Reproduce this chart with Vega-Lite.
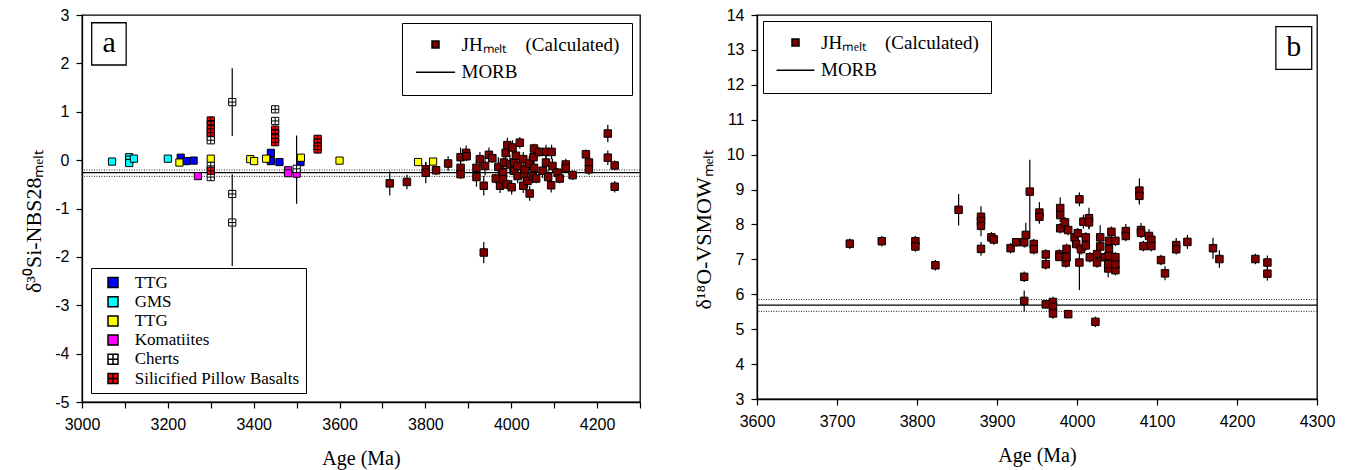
{
  "$schema": "https://vega.github.io/schema/vega-lite/v6.json",
  "background": "white",
  "autosize": {"type": "pad"},
  "padding": {"left": 22, "top": 6, "right": 4, "bottom": 2},
  "spacing": 49,
  "resolve": {"scale": {"fill": "independent", "shape": "independent"}, "legend": {"fill": "independent", "shape": "independent"}},
  "config": {
    "view": {"stroke": "black", "strokeWidth": 1.3},
    "axis": {
      "grid": false, "domainColor": "black", "domainWidth": 1.3,
      "tickColor": "black", "tickWidth": 1.2, "tickSize": 6,
      "labelFont": "Liberation Sans", "labelFontSize": 16, "labelColor": "black",
      "labelPadding": 7, "labelFlush": false, "labelOverlap": false,
      "titleFont": "Liberation Serif", "titleFontSize": 20, "titleFontWeight": "normal", "titleColor": "black"
    },
    "axisY": {"titleFontSize": 22},
    "legend": {"labelFont": "Liberation Serif", "labelColor": "black", "strokeColor": "black", "fillColor": "white", "labelLimit": 400}
  },
  "datasets": {
    "left_cat": [
      {"age": 3070, "d": -0.03, "group": "GMS"},
      {"age": 3110, "d": 0.06, "group": "GMS"},
      {"age": 3110, "d": 0.01, "group": "GMS"},
      {"age": 3110, "d": -0.06, "group": "GMS"},
      {"age": 3121, "d": 0.03, "group": "GMS"},
      {"age": 3200, "d": 0.03, "group": "GMS"},
      {"age": 3230, "d": 0.05, "group": "TTG-a"},
      {"age": 3242, "d": -0.02, "group": "TTG-a"},
      {"age": 3260, "d": -0.01, "group": "TTG-a"},
      {"age": 3440, "d": 0.15, "group": "TTG-a"},
      {"age": 3440, "d": -0.02, "group": "TTG-a"},
      {"age": 3460, "d": -0.04, "group": "TTG-a"},
      {"age": 3509, "d": -0.04, "group": "TTG-a"},
      {"age": 3227, "d": -0.05, "group": "TTG-b"},
      {"age": 3300, "d": 0.03, "group": "TTG-b"},
      {"age": 3392, "d": 0.02, "group": "TTG-b"},
      {"age": 3401, "d": -0.02, "group": "TTG-b"},
      {"age": 3429, "d": 0.03, "group": "TTG-b"},
      {"age": 3510, "d": 0.05, "group": "TTG-b"},
      {"age": 3600, "d": -0.01, "group": "TTG-b"},
      {"age": 3783, "d": -0.04, "group": "TTG-b"},
      {"age": 3818, "d": -0.03, "group": "TTG-b"},
      {"age": 3270, "d": -0.33, "group": "Komatiites"},
      {"age": 3480, "d": -0.21, "group": "Komatiites"},
      {"age": 3480, "d": -0.27, "group": "Komatiites"},
      {"age": 3500, "d": -0.28, "group": "Komatiites"},
      {"age": 3300, "d": 0.49, "group": "Cherts"},
      {"age": 3300, "d": 0.41, "group": "Cherts"},
      {"age": 3300, "d": -0.12, "group": "Cherts"},
      {"age": 3300, "d": -0.35, "group": "Cherts"},
      {"age": 3350, "d": 1.2, "group": "Cherts", "lo": 0.5, "hi": 1.9},
      {"age": 3350, "d": -0.7, "group": "Cherts"},
      {"age": 3350, "d": -1.29, "group": "Cherts", "lo": -2.19, "hi": -0.29},
      {"age": 3450, "d": 1.05, "group": "Cherts"},
      {"age": 3450, "d": 0.81, "group": "Cherts"},
      {"age": 3500, "d": -0.18, "group": "Cherts", "lo": -0.9, "hi": 0.51},
      {"age": 3300, "d": 0.82, "group": "Silicified Pillow Basalts"},
      {"age": 3300, "d": 0.73, "group": "Silicified Pillow Basalts"},
      {"age": 3300, "d": 0.64, "group": "Silicified Pillow Basalts"},
      {"age": 3300, "d": 0.57, "group": "Silicified Pillow Basalts"},
      {"age": 3300, "d": -0.22, "group": "Silicified Pillow Basalts"},
      {"age": 3450, "d": 0.63, "group": "Silicified Pillow Basalts"},
      {"age": 3450, "d": 0.55, "group": "Silicified Pillow Basalts"},
      {"age": 3450, "d": 0.45, "group": "Silicified Pillow Basalts"},
      {"age": 3450, "d": 0.37, "group": "Silicified Pillow Basalts"},
      {"age": 3549, "d": 0.44, "group": "Silicified Pillow Basalts"},
      {"age": 3549, "d": 0.36, "group": "Silicified Pillow Basalts"},
      {"age": 3549, "d": 0.28, "group": "Silicified Pillow Basalts"},
      {"age": 3549, "d": 0.22, "group": "Silicified Pillow Basalts"}
    ],
    "left_jh": [
      {"age": 3717, "d": -0.48, "lo": -0.73, "hi": -0.23},
      {"age": 3757, "d": -0.45, "lo": -0.60, "hi": -0.30},
      {"age": 3801, "d": -0.19, "lo": -0.34, "hi": -0.04},
      {"age": 3801, "d": -0.26, "lo": -0.48, "hi": -0.04},
      {"age": 3825, "d": -0.21, "lo": -0.31, "hi": -0.11},
      {"age": 3853, "d": -0.07, "lo": -0.22, "hi": 0.08},
      {"age": 3882, "d": 0.06, "lo": -0.14, "hi": 0.26},
      {"age": 3882, "d": -0.16, "lo": -0.28, "hi": -0.04},
      {"age": 3882, "d": -0.29, "lo": -0.39, "hi": -0.19},
      {"age": 3895, "d": 0.15, "lo": 0.00, "hi": 0.30},
      {"age": 3896, "d": 0.08, "lo": -0.02, "hi": 0.18},
      {"age": 3919, "d": -0.16, "lo": -0.31, "hi": -0.01},
      {"age": 3919, "d": -0.35, "lo": -0.55, "hi": -0.15},
      {"age": 3927, "d": 0.02, "lo": -0.13, "hi": 0.17},
      {"age": 3936, "d": -0.53, "lo": -0.73, "hi": -0.33},
      {"age": 3936, "d": -1.91, "lo": -2.13, "hi": -1.69},
      {"age": 3939, "d": -0.12, "lo": -0.32, "hi": 0.08},
      {"age": 3948, "d": 0.11, "lo": -0.04, "hi": 0.26},
      {"age": 3956, "d": 0.04, "lo": -0.06, "hi": 0.14},
      {"age": 3964, "d": -0.38, "lo": -0.48, "hi": -0.28},
      {"age": 3970, "d": -0.14, "lo": -0.34, "hi": 0.06},
      {"age": 3974, "d": -0.53, "lo": -0.68, "hi": -0.38},
      {"age": 3981, "d": -0.25, "lo": -0.40, "hi": -0.10},
      {"age": 3981, "d": -0.40, "lo": -0.52, "hi": -0.28},
      {"age": 3983, "d": -0.05, "lo": -0.20, "hi": 0.10},
      {"age": 3987, "d": 0.15, "lo": 0.00, "hi": 0.30},
      {"age": 3989, "d": -0.50, "lo": -0.60, "hi": -0.40},
      {"age": 3991, "d": 0.31, "lo": 0.16, "hi": 0.46},
      {"age": 3997, "d": -0.09, "lo": -0.29, "hi": 0.11},
      {"age": 4001, "d": -0.56, "lo": -0.71, "hi": -0.41},
      {"age": 4003, "d": 0.26, "lo": 0.11, "hi": 0.41},
      {"age": 4007, "d": -0.22, "lo": -0.37, "hi": -0.07},
      {"age": 4007, "d": -0.05, "lo": -0.17, "hi": 0.07},
      {"age": 4011, "d": 0.09, "lo": -0.01, "hi": 0.19},
      {"age": 4015, "d": -0.33, "lo": -0.48, "hi": -0.18},
      {"age": 4015, "d": -0.12, "lo": -0.24, "hi": 0.00},
      {"age": 4020, "d": 0.36, "lo": 0.24, "hi": 0.48},
      {"age": 4028, "d": 0.02, "lo": -0.13, "hi": 0.17},
      {"age": 4028, "d": -0.53, "lo": -0.68, "hi": -0.38},
      {"age": 4030, "d": -0.29, "lo": -0.44, "hi": -0.14},
      {"age": 4032, "d": -0.19, "lo": -0.34, "hi": -0.04},
      {"age": 4038, "d": -0.43, "lo": -0.58, "hi": -0.28},
      {"age": 4042, "d": -0.07, "lo": -0.22, "hi": 0.08},
      {"age": 4043, "d": -0.69, "lo": -0.84, "hi": -0.54},
      {"age": 4050, "d": -0.33, "lo": -0.48, "hi": -0.18},
      {"age": 4052, "d": 0.06, "lo": -0.09, "hi": 0.21},
      {"age": 4053, "d": 0.24, "lo": 0.14, "hi": 0.34},
      {"age": 4053, "d": -0.16, "lo": -0.31, "hi": -0.01},
      {"age": 4058, "d": -0.38, "lo": -0.48, "hi": -0.28},
      {"age": 4065, "d": 0.17, "lo": 0.07, "hi": 0.27},
      {"age": 4073, "d": -0.22, "lo": -0.37, "hi": -0.07},
      {"age": 4081, "d": -0.05, "lo": -0.20, "hi": 0.10},
      {"age": 4081, "d": 0.17, "lo": 0.02, "hi": 0.32},
      {"age": 4086, "d": -0.35, "lo": -0.50, "hi": -0.20},
      {"age": 4093, "d": -0.52, "lo": -0.67, "hi": -0.37},
      {"age": 4094, "d": 0.17, "lo": 0.02, "hi": 0.32},
      {"age": 4096, "d": -0.12, "lo": -0.27, "hi": 0.03},
      {"age": 4108, "d": -0.26, "lo": -0.36, "hi": -0.16},
      {"age": 4113, "d": -0.38, "lo": -0.48, "hi": -0.28},
      {"age": 4127, "d": -0.09, "lo": -0.21, "hi": 0.03},
      {"age": 4127, "d": -0.16, "lo": -0.26, "hi": -0.06},
      {"age": 4143, "d": -0.31, "lo": -0.41, "hi": -0.21},
      {"age": 4174, "d": 0.12, "lo": 0.02, "hi": 0.22},
      {"age": 4181, "d": -0.05, "lo": -0.17, "hi": 0.07},
      {"age": 4181, "d": -0.19, "lo": -0.31, "hi": -0.07},
      {"age": 4225, "d": 0.55, "lo": 0.37, "hi": 0.73},
      {"age": 4225, "d": 0.05, "lo": -0.10, "hi": 0.20},
      {"age": 4241, "d": -0.11, "lo": -0.21, "hi": -0.01},
      {"age": 4241, "d": -0.55, "lo": -0.67, "hi": -0.43}
    ],
    "right_jh": [
      {"age": 3716, "d": 7.45, "lo": 7.30, "hi": 7.60},
      {"age": 3756, "d": 7.52, "lo": 7.37, "hi": 7.67},
      {"age": 3798, "d": 7.52, "lo": 7.37, "hi": 7.67},
      {"age": 3798, "d": 7.37, "lo": 7.22, "hi": 7.52},
      {"age": 3823, "d": 6.83, "lo": 6.68, "hi": 6.98},
      {"age": 3852, "d": 8.42, "lo": 7.97, "hi": 8.87},
      {"age": 3880, "d": 8.22, "lo": 7.92, "hi": 8.52},
      {"age": 3880, "d": 8.10, "lo": 7.90, "hi": 8.30},
      {"age": 3880, "d": 7.96, "lo": 7.66, "hi": 8.26},
      {"age": 3880, "d": 7.30, "lo": 7.10, "hi": 7.50},
      {"age": 3893, "d": 7.63, "lo": 7.48, "hi": 7.78},
      {"age": 3896, "d": 7.57, "lo": 7.42, "hi": 7.72},
      {"age": 3917, "d": 7.32, "lo": 7.17, "hi": 7.47},
      {"age": 3924, "d": 7.49, "lo": 7.37, "hi": 7.61},
      {"age": 3934, "d": 7.49, "lo": 7.34, "hi": 7.64},
      {"age": 3934, "d": 6.50, "lo": 6.35, "hi": 6.65},
      {"age": 3934, "d": 5.81, "lo": 5.51, "hi": 6.11},
      {"age": 3936, "d": 7.70, "lo": 7.35, "hi": 8.05},
      {"age": 3941, "d": 8.94, "lo": 7.60, "hi": 9.85},
      {"age": 3946, "d": 7.44, "lo": 7.29, "hi": 7.59},
      {"age": 3946, "d": 7.29, "lo": 7.14, "hi": 7.44},
      {"age": 3953, "d": 8.34, "lo": 8.04, "hi": 8.64},
      {"age": 3953, "d": 8.22, "lo": 8.02, "hi": 8.42},
      {"age": 3961, "d": 7.14, "lo": 6.99, "hi": 7.29},
      {"age": 3961, "d": 6.86, "lo": 6.71, "hi": 7.01},
      {"age": 3961, "d": 5.71, "lo": 5.61, "hi": 5.81},
      {"age": 3970, "d": 5.78, "lo": 5.63, "hi": 5.93},
      {"age": 3970, "d": 5.64, "lo": 5.54, "hi": 5.74},
      {"age": 3970, "d": 5.45, "lo": 5.30, "hi": 5.60},
      {"age": 3979, "d": 8.47, "lo": 8.17, "hi": 8.77},
      {"age": 3979, "d": 8.27, "lo": 8.07, "hi": 8.47},
      {"age": 3979, "d": 7.89, "lo": 7.74, "hi": 8.04},
      {"age": 3978, "d": 7.14, "lo": 6.99, "hi": 7.29},
      {"age": 3978, "d": 7.07, "lo": 6.97, "hi": 7.17},
      {"age": 3985, "d": 8.06, "lo": 7.91, "hi": 8.21},
      {"age": 3986, "d": 6.91, "lo": 6.76, "hi": 7.06},
      {"age": 3987, "d": 7.30, "lo": 7.15, "hi": 7.45},
      {"age": 3987, "d": 7.06, "lo": 6.96, "hi": 7.16},
      {"age": 3989, "d": 7.84, "lo": 7.69, "hi": 7.99},
      {"age": 3989, "d": 5.43, "lo": 5.31, "hi": 5.55},
      {"age": 3997, "d": 7.63, "lo": 7.48, "hi": 7.78},
      {"age": 3999, "d": 7.44, "lo": 7.29, "hi": 7.59},
      {"age": 4001, "d": 7.75, "lo": 7.60, "hi": 7.90},
      {"age": 4003, "d": 8.72, "lo": 8.52, "hi": 8.92},
      {"age": 4003, "d": 6.91, "lo": 6.12, "hi": 7.20},
      {"age": 4005, "d": 7.29, "lo": 7.14, "hi": 7.44},
      {"age": 4008, "d": 8.08, "lo": 7.88, "hi": 8.28},
      {"age": 4011, "d": 7.63, "lo": 7.48, "hi": 7.78},
      {"age": 4011, "d": 7.40, "lo": 7.25, "hi": 7.55},
      {"age": 4015, "d": 8.18, "lo": 7.88, "hi": 8.48},
      {"age": 4015, "d": 8.06, "lo": 7.86, "hi": 8.26},
      {"age": 4016, "d": 7.06, "lo": 6.91, "hi": 7.21},
      {"age": 4023, "d": 5.21, "lo": 5.06, "hi": 5.36},
      {"age": 4025, "d": 7.15, "lo": 7.00, "hi": 7.30},
      {"age": 4025, "d": 6.91, "lo": 6.76, "hi": 7.06},
      {"age": 4029, "d": 7.63, "lo": 7.28, "hi": 7.98},
      {"age": 4029, "d": 7.37, "lo": 7.22, "hi": 7.52},
      {"age": 4035, "d": 7.06, "lo": 6.91, "hi": 7.21},
      {"age": 4039, "d": 6.74, "lo": 6.49, "hi": 6.99},
      {"age": 4039, "d": 6.86, "lo": 6.71, "hi": 7.01},
      {"age": 4040, "d": 7.29, "lo": 7.14, "hi": 7.44},
      {"age": 4040, "d": 7.53, "lo": 7.38, "hi": 7.68},
      {"age": 4040, "d": 7.10, "lo": 6.95, "hi": 7.25},
      {"age": 4043, "d": 7.79, "lo": 7.64, "hi": 7.94},
      {"age": 4048, "d": 7.53, "lo": 7.38, "hi": 7.68},
      {"age": 4048, "d": 6.69, "lo": 6.54, "hi": 6.84},
      {"age": 4048, "d": 6.86, "lo": 6.71, "hi": 7.01},
      {"age": 4048, "d": 7.06, "lo": 6.91, "hi": 7.21},
      {"age": 4061, "d": 7.81, "lo": 7.61, "hi": 8.01},
      {"age": 4061, "d": 7.67, "lo": 7.52, "hi": 7.82},
      {"age": 4078, "d": 8.97, "lo": 8.62, "hi": 9.32},
      {"age": 4078, "d": 8.82, "lo": 8.57, "hi": 9.07},
      {"age": 4080, "d": 7.84, "lo": 7.64, "hi": 8.04},
      {"age": 4080, "d": 7.76, "lo": 7.61, "hi": 7.91},
      {"age": 4083, "d": 7.38, "lo": 7.23, "hi": 7.53},
      {"age": 4090, "d": 7.67, "lo": 7.47, "hi": 7.87},
      {"age": 4093, "d": 7.56, "lo": 7.41, "hi": 7.71},
      {"age": 4093, "d": 7.38, "lo": 7.23, "hi": 7.53},
      {"age": 4105, "d": 6.98, "lo": 6.83, "hi": 7.13},
      {"age": 4110, "d": 6.60, "lo": 6.40, "hi": 6.80},
      {"age": 4124, "d": 7.41, "lo": 7.21, "hi": 7.61},
      {"age": 4124, "d": 7.29, "lo": 7.14, "hi": 7.44},
      {"age": 4138, "d": 7.50, "lo": 7.30, "hi": 7.70},
      {"age": 4170, "d": 7.32, "lo": 7.02, "hi": 7.62},
      {"age": 4178, "d": 7.01, "lo": 6.76, "hi": 7.26},
      {"age": 4223, "d": 7.01, "lo": 6.86, "hi": 7.16},
      {"age": 4238, "d": 6.91, "lo": 6.71, "hi": 7.11},
      {"age": 4238, "d": 6.59, "lo": 6.39, "hi": 6.79}
    ],
    "morb_left_dot": [{"morb": -0.204}, {"morb": -0.335}],
    "morb_left": [{"morb": -0.26}],
    "morb_right_dot": [{"morb": 5.85}, {"morb": 5.51}],
    "morb_right": [{"morb": 5.69}],
    "label_a": [{"label": "a"}],
    "label_b": [{"label": "b"}]
  },
  "hconcat": [
    {
      "width": 558,
      "height": 387,
      "resolve": {"scale": {"fill": "independent", "shape": "independent"}},
      "layer": [
        {
          "data": {"name": "morb_left_dot"},
          "mark": {"type": "rule", "strokeDash": [1, 1.5], "color": "#222222", "strokeWidth": 1},
          "encoding": {"y": {"field": "morb", "type": "quantitative", "title": "δ³⁰Si-NBS28ₘₑₗₜ"}}
        },
        {
          "data": {"name": "morb_left"},
          "mark": {"type": "rule", "color": "black", "strokeWidth": 1.2},
          "encoding": {"y": {"field": "morb", "type": "quantitative", "title": "δ³⁰Si-NBS28ₘₑₗₜ"}}
        },
        {
          "data": {"name": "left_cat"},
          "transform": [{"filter": "isValid(datum.lo)"}],
          "mark": {"type": "rule", "color": "black", "strokeWidth": 1.2},
          "encoding": {
            "x": {"field": "age", "type": "quantitative", "title": "Age (Ma)"},
            "y": {"field": "lo", "type": "quantitative", "title": "δ³⁰Si-NBS28ₘₑₗₜ"},
            "y2": {"field": "hi"}
          }
        },
        {
          "data": {"name": "left_jh"},
          "mark": {"type": "rule", "color": "black", "strokeWidth": 1.2},
          "encoding": {
            "x": {"field": "age", "type": "quantitative", "title": "Age (Ma)"},
            "y": {"field": "lo", "type": "quantitative", "title": "δ³⁰Si-NBS28ₘₑₗₜ"},
            "y2": {"field": "hi"}
          }
        },
        {
          "data": {"name": "left_cat"},
          "mark": {"type": "point", "filled": true, "size": 52, "stroke": "black", "strokeWidth": 1, "opacity": 1},
          "encoding": {
            "x": {"field": "age", "type": "quantitative", "title": "Age (Ma)",
              "scale": {"domain": [3000, 4300], "nice": false, "zero": false},
              "axis": {"values": [3000, 3100, 3200, 3300, 3400, 3500, 3600, 3700, 3800, 3900, 4000, 4100, 4200, 4300],
                "labelExpr": "datum.value % 200 === 0 && datum.value < 4300 ? toString(datum.value) : ''",
                "labelPadding": 8, "titlePadding": 16, "labelOverlap": false}},
            "y": {"field": "d", "type": "quantitative", "title": "δ³⁰Si-NBS28ₘₑₗₜ",
              "scale": {"domain": [-5, 3], "nice": false, "zero": false},
              "axis": {"values": [-5, -4.5, -4, -3.5, -3, -2.5, -2, -1.5, -1, -0.5, 0, 0.5, 1, 1.5, 2, 2.5, 3],
                "labelExpr": "datum.value % 1 === 0 ? toString(datum.value) : ''",
                "titlePadding": 9, "titleY": 206, "labelOverlap": false}},
            "fill": {"field": "group", "type": "nominal",
              "scale": {"domain": ["TTG-a", "GMS", "TTG-b", "Komatiites", "Cherts", "Silicified Pillow Basalts"],
                "range": ["#0000ff", "#00ffff", "#ffff00", "#ff00ff", "#ffffff", "#ff0000"]},
              "legend": {"title": null, "orient": "bottom-left", "offset": 9, "padding": 6, "symbolSize": 100,
                "symbolOffset": 7.5, "labelOffset": 13.2, "labelFontSize": 17, "rowPadding": 1.2,
                "labelExpr": "slice(datum.label, 0, 4) === 'TTG-' ? 'TTG' : datum.label",
                "encode": {"symbols": {"update": {"stroke": {"value": "black"}, "strokeWidth": {"value": 1.2}}}}}},
            "shape": {"field": "group", "type": "nominal",
              "scale": {"domain": ["TTG-a", "GMS", "TTG-b", "Komatiites", "Cherts", "Silicified Pillow Basalts"],
                "range": ["square", "square", "square", "square", "M-1,-1H1V1H-1Z M0,-1V1 M-1,0H1", "M-1,-1H1V1H-1Z M0,-1V1 M-1,0H1"]},
              "legend": {"title": null, "orient": "bottom-left", "offset": 9, "padding": 6, "symbolSize": 100,
                "symbolOffset": 7.5, "labelOffset": 13.2, "labelFontSize": 17, "rowPadding": 1.2,
                "labelExpr": "slice(datum.label, 0, 4) === 'TTG-' ? 'TTG' : datum.label",
                "encode": {"symbols": {"update": {"stroke": {"value": "black"}, "strokeWidth": {"value": 1.2}}}}}}
          }
        },
        {
          "data": {"name": "left_jh"},
          "mark": {"type": "point", "filled": true, "size": 56, "stroke": "black", "strokeWidth": 1, "opacity": 1},
          "encoding": {
            "x": {"field": "age", "type": "quantitative", "title": "Age (Ma)"},
            "y": {"field": "d", "type": "quantitative", "title": "δ³⁰Si-NBS28ₘₑₗₜ"},
            "fill": {"datum": "JH", "type": "nominal",
              "scale": {"domain": ["JH", "MORB"], "range": ["#800000", "transparent"]},
              "legend": {"title": null, "orient": "top-right", "offset": 8, "padding": 12, "symbolSize": 49,
                "symbolOffset": 12, "labelOffset": 16.5, "labelFontSize": 19, "rowPadding": 7.7,
                "labelExpr": "datum.value === 'JH' ? 'JHₘₑₗₜ\u00a0\u00a0\u00a0\u00a0(Calculated)' : 'MORB'",
                "encode": {"symbols": {"update": {"stroke": {"value": "black"}, "strokeWidth": {"value": 1.2}}}}}},
            "shape": {"datum": "JH", "type": "nominal",
              "scale": {"domain": ["JH", "MORB"], "range": ["square", "M-5.6,0H5.6"]},
              "legend": {"title": null, "orient": "top-right", "offset": 8, "padding": 12, "symbolSize": 49,
                "symbolOffset": 12, "labelOffset": 16.5, "labelFontSize": 19, "rowPadding": 7.7,
                "labelExpr": "datum.value === 'JH' ? 'JHₘₑₗₜ\u00a0\u00a0\u00a0\u00a0(Calculated)' : 'MORB'",
                "encode": {"symbols": {"update": {"stroke": {"value": "black"}, "strokeWidth": {"value": 1.2}}}}}}
          }
        },
        {
          "data": {"name": "label_a"},
          "mark": {"type": "rect", "fill": "white", "stroke": "black", "strokeWidth": 1.3},
          "encoding": {
            "x": {"datum": 3022.6, "type": "quantitative", "title": "Age (Ma)"},
            "x2": {"datum": 3102.9},
            "y": {"datum": 2.84, "type": "quantitative", "title": "δ³⁰Si-NBS28ₘₑₗₜ"},
            "y2": {"datum": 1.966}
          }
        },
        {
          "data": {"name": "label_a"},
          "mark": {"type": "text", "font": "Liberation Serif", "fontSize": 30, "align": "center", "baseline": "middle", "color": "black"},
          "encoding": {
            "x": {"datum": 3063, "type": "quantitative", "title": "Age (Ma)"},
            "y": {"datum": 2.42, "type": "quantitative", "title": "δ³⁰Si-NBS28ₘₑₗₜ"},
            "text": {"field": "label"}
          }
        }
      ]
    },
    {
      "width": 560,
      "height": 384,
      "layer": [
        {
          "data": {"name": "morb_right_dot"},
          "mark": {"type": "rule", "strokeDash": [1, 1.5], "color": "#222222", "strokeWidth": 1},
          "encoding": {"y": {"field": "morb", "type": "quantitative", "title": "δ¹⁸O-VSMOWₘₑₗₜ"}}
        },
        {
          "data": {"name": "morb_right"},
          "mark": {"type": "rule", "color": "black", "strokeWidth": 1.2},
          "encoding": {"y": {"field": "morb", "type": "quantitative", "title": "δ¹⁸O-VSMOWₘₑₗₜ"}}
        },
        {
          "data": {"name": "right_jh"},
          "mark": {"type": "rule", "color": "black", "strokeWidth": 1.2},
          "encoding": {
            "x": {"field": "age", "type": "quantitative", "title": "Age (Ma)"},
            "y": {"field": "lo", "type": "quantitative", "title": "δ¹⁸O-VSMOWₘₑₗₜ"},
            "y2": {"field": "hi"}
          }
        },
        {
          "data": {"name": "right_jh"},
          "mark": {"type": "point", "filled": true, "size": 56, "stroke": "black", "strokeWidth": 1, "opacity": 1},
          "encoding": {
            "x": {"field": "age", "type": "quantitative", "title": "Age (Ma)",
              "scale": {"domain": [3600, 4300], "nice": false, "zero": false},
              "axis": {"values": [3600, 3650, 3700, 3750, 3800, 3850, 3900, 3950, 4000, 4050, 4100, 4150, 4200, 4250, 4300],
                "labelExpr": "datum.value % 100 === 0 ? toString(datum.value) : ''",
                "labelPadding": 8, "titlePadding": 16, "labelOverlap": false}},
            "y": {"field": "d", "type": "quantitative", "title": "δ¹⁸O-VSMOWₘₑₗₜ",
              "scale": {"domain": [3, 14], "nice": false, "zero": false},
              "axis": {"tickCount": 11, "format": "d", "titlePadding": 11, "titleY": 214, "labelOverlap": false, "labelSeparation": 0}},
            "fill": {"datum": "JH", "type": "nominal",
              "scale": {"domain": ["JH", "MORB"], "range": ["#800000", "transparent"]},
              "legend": {"title": null, "orient": "top-left", "offset": 6, "padding": 12, "symbolSize": 49,
                "symbolOffset": 11, "labelOffset": 16, "labelFontSize": 19, "rowPadding": 7.7,
                "labelExpr": "datum.value === 'JH' ? 'JHₘₑₗₜ\u00a0\u00a0\u00a0\u00a0(Calculated)' : 'MORB'",
                "encode": {"symbols": {"update": {"stroke": {"value": "black"}, "strokeWidth": {"value": 1.2}}}}}},
            "shape": {"datum": "JH", "type": "nominal",
              "scale": {"domain": ["JH", "MORB"], "range": ["square", "M-5.4,0H5.4"]},
              "legend": {"title": null, "orient": "top-left", "offset": 6, "padding": 12, "symbolSize": 49,
                "symbolOffset": 11, "labelOffset": 16, "labelFontSize": 19, "rowPadding": 7.7,
                "labelExpr": "datum.value === 'JH' ? 'JHₘₑₗₜ\u00a0\u00a0\u00a0\u00a0(Calculated)' : 'MORB'",
                "encode": {"symbols": {"update": {"stroke": {"value": "black"}, "strokeWidth": {"value": 1.2}}}}}}
          }
        },
        {
          "data": {"name": "label_b"},
          "mark": {"type": "rect", "fill": "white", "stroke": "black", "strokeWidth": 1.3},
          "encoding": {
            "x": {"datum": 4248.6, "type": "quantitative", "title": "Age (Ma)"},
            "x2": {"datum": 4293.4},
            "y": {"datum": 13.667, "type": "quantitative", "title": "δ¹⁸O-VSMOWₘₑₗₜ"},
            "y2": {"datum": 12.44}
          }
        },
        {
          "data": {"name": "label_b"},
          "mark": {"type": "text", "font": "Liberation Serif", "fontSize": 30, "align": "center", "baseline": "middle", "color": "black"},
          "encoding": {
            "x": {"datum": 4271, "type": "quantitative", "title": "Age (Ma)"},
            "y": {"datum": 13.08, "type": "quantitative", "title": "δ¹⁸O-VSMOWₘₑₗₜ"},
            "text": {"field": "label"}
          }
        }
      ]
    }
  ]
}
